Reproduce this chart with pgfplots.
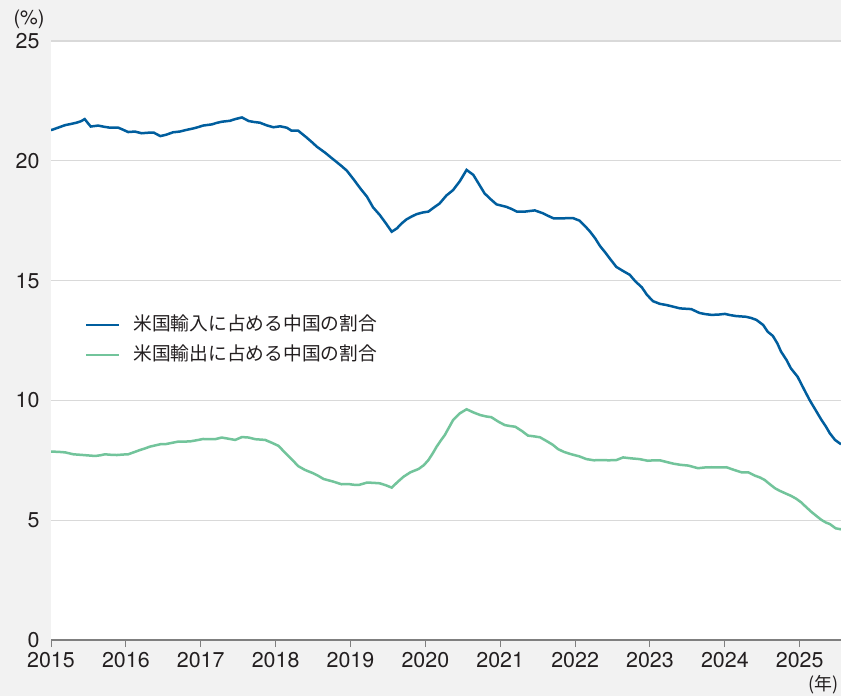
\documentclass[border=0pt]{standalone}
\usepackage{fontspec}
\setmainfont{TeX Gyre Heros}
\newfontfamily\cjk{Noto Sans CJK JP}
\usepackage{pgfplots}
\pgfplotsset{compat=1.18}
\definecolor{bgc}{HTML}{F2F2F2}
\definecolor{gridc}{HTML}{D9D9D9}
\definecolor{axisc}{HTML}{7F7F7F}
\definecolor{txtc}{HTML}{231F20}
\definecolor{impc}{HTML}{005E9E}
\definecolor{expc}{HTML}{72C49B}
\begin{document}
\begin{tikzpicture}
\fill[bgc] (-51bp,-56bp) rectangle (790bp,640bp);
\begin{axis}[
  at={(0,0)}, anchor=south west,
  scale only axis, width=790bp, height=599bp,
  xmin=2015, xmax=2025.55, ymin=0, ymax=25,
  axis background/.style={fill=white},
  axis x line*=bottom, axis y line*=left,
  y axis line style={draw=none},
  x axis line style={draw=axisc, line width=2bp},
  xtick={2015,...,2025}, ytick={0,5,...,25},
  x tick style={draw=axisc, line width=1bp},
  y tick style={draw=none},
  tick align=outside, major tick length=7bp,
  ymajorgrids, grid style={draw=gridc, line width=1.2bp},
  /pgf/number format/assume math mode=true,
  /pgf/number format/1000 sep={},
  tick label style={font=\fontsize{21.5}{24}\selectfont, text=txtc},
  xticklabel style={yshift=-2bp},
  yticklabel style={xshift=-1bp},
  legend style={at={(0.039,0.545)}, anchor=north west, draw=none, fill=none,
    font=\cjk\fontsize{18.8}{22}\selectfont, text=txtc, row sep=11bp,
    nodes={inner sep=0pt, text height=15bp, text depth=4bp},
    /tikz/every odd column/.append style={column sep=13bp}},
  legend image code/.code={\draw[#1, line width=2.5bp] (0bp,0bp) -- (33bp,0bp);},
  legend cell align=left,
]
\addplot[impc, line width=2.5bp] coordinates {
(2015.00,21.28) (2015.03,21.31) (2015.11,21.40) (2015.19,21.49) (2015.27,21.54)
(2015.34,21.59) (2015.40,21.65) (2015.45,21.74) (2015.53,21.43) (2015.63,21.47)
(2015.71,21.42) (2015.79,21.38) (2015.90,21.38) (2015.96,21.30) (2016.03,21.20)
(2016.12,21.22) (2016.21,21.15) (2016.29,21.17) (2016.37,21.18) (2016.46,21.03)
(2016.54,21.09) (2016.63,21.19) (2016.72,21.22) (2016.81,21.29) (2016.90,21.35)
(2016.96,21.40) (2017.03,21.47) (2017.15,21.52) (2017.21,21.58) (2017.28,21.63)
(2017.39,21.67) (2017.46,21.74) (2017.55,21.81) (2017.64,21.66) (2017.71,21.62)
(2017.79,21.59) (2017.88,21.48) (2017.97,21.40) (2018.06,21.44) (2018.15,21.38)
(2018.21,21.26) (2018.30,21.26) (2018.41,20.98) (2018.48,20.79) (2018.55,20.59)
(2018.66,20.34) (2018.73,20.16) (2018.81,19.96) (2018.88,19.78) (2018.95,19.59)
(2019.04,19.23) (2019.13,18.85) (2019.22,18.50) (2019.30,18.06) (2019.39,17.74)
(2019.47,17.40) (2019.55,17.04) (2019.62,17.18) (2019.68,17.38) (2019.75,17.56)
(2019.82,17.68) (2019.88,17.77) (2019.96,17.84) (2020.04,17.88) (2020.10,18.02)
(2020.19,18.22) (2020.28,18.55) (2020.37,18.78) (2020.46,19.15) (2020.55,19.62)
(2020.64,19.41) (2020.72,19.00) (2020.79,18.64) (2020.87,18.40) (2020.95,18.18)
(2021.08,18.08) (2021.15,17.99) (2021.22,17.88) (2021.33,17.88) (2021.46,17.93)
(2021.57,17.81) (2021.64,17.70) (2021.71,17.60) (2021.84,17.60) (2021.97,17.61)
(2022.06,17.50) (2022.13,17.28) (2022.20,17.04) (2022.27,16.75) (2022.33,16.45)
(2022.40,16.18) (2022.46,15.93) (2022.55,15.57) (2022.64,15.40) (2022.73,15.24)
(2022.80,14.98) (2022.89,14.72) (2022.96,14.40) (2023.04,14.14) (2023.13,14.03)
(2023.22,13.98) (2023.31,13.91) (2023.40,13.84) (2023.55,13.81) (2023.66,13.65)
(2023.74,13.60) (2023.82,13.57) (2023.91,13.58) (2024.00,13.61) (2024.07,13.56)
(2024.15,13.52) (2024.28,13.49) (2024.35,13.44) (2024.42,13.36) (2024.51,13.15)
(2024.57,12.87) (2024.64,12.69) (2024.70,12.38) (2024.75,12.03) (2024.82,11.70)
(2024.88,11.34) (2024.97,10.99) (2025.05,10.50) (2025.13,10.02) (2025.21,9.60)
(2025.29,9.18) (2025.35,8.90) (2025.40,8.63) (2025.47,8.35) (2025.55,8.17)
};
\addlegendentry{米国輸入に占める中国の割合}
\addplot[expc, line width=2.5bp] coordinates {
(2015.00,7.86) (2015.04,7.86) (2015.11,7.85) (2015.19,7.83) (2015.30,7.75)
(2015.43,7.72) (2015.51,7.70) (2015.59,7.68) (2015.66,7.71) (2015.72,7.75)
(2015.80,7.73) (2015.88,7.72) (2015.96,7.74) (2016.03,7.75) (2016.11,7.84)
(2016.19,7.93) (2016.26,8.00) (2016.32,8.07) (2016.39,8.12) (2016.46,8.17)
(2016.54,8.18) (2016.62,8.23) (2016.70,8.28) (2016.78,8.28) (2016.86,8.29)
(2016.95,8.34) (2017.03,8.39) (2017.11,8.38) (2017.19,8.38) (2017.28,8.45)
(2017.37,8.40) (2017.46,8.35) (2017.55,8.47) (2017.64,8.45) (2017.73,8.38)
(2017.86,8.35) (2017.95,8.23) (2018.04,8.10) (2018.10,7.90) (2018.17,7.68)
(2018.24,7.46) (2018.30,7.26) (2018.39,7.10) (2018.50,6.96) (2018.57,6.85)
(2018.64,6.72) (2018.77,6.61) (2018.88,6.50) (2018.97,6.51) (2019.04,6.48)
(2019.11,6.47) (2019.22,6.57) (2019.30,6.56) (2019.39,6.54) (2019.47,6.46)
(2019.55,6.36) (2019.63,6.60) (2019.71,6.82) (2019.80,7.00) (2019.91,7.14)
(2019.98,7.30) (2020.04,7.51) (2020.10,7.80) (2020.15,8.07) (2020.20,8.30)
(2020.26,8.56) (2020.32,8.90) (2020.37,9.18) (2020.46,9.46) (2020.55,9.63)
(2020.64,9.50) (2020.73,9.39) (2020.81,9.33) (2020.88,9.30) (2020.97,9.12)
(2021.06,8.97) (2021.13,8.93) (2021.20,8.90) (2021.29,8.72) (2021.37,8.53)
(2021.45,8.50) (2021.53,8.46) (2021.62,8.30) (2021.70,8.15) (2021.77,7.97)
(2021.85,7.85) (2021.95,7.75) (2022.05,7.67) (2022.15,7.55) (2022.25,7.50)
(2022.33,7.51) (2022.45,7.50) (2022.55,7.51) (2022.64,7.62) (2022.75,7.58)
(2022.86,7.55) (2022.97,7.48) (2023.05,7.50) (2023.13,7.50) (2023.22,7.43)
(2023.31,7.36) (2023.41,7.31) (2023.51,7.28) (2023.64,7.17) (2023.73,7.20)
(2023.82,7.21) (2023.92,7.20) (2024.02,7.21) (2024.12,7.10) (2024.22,7.00)
(2024.31,7.00) (2024.40,6.86) (2024.47,6.78) (2024.53,6.68) (2024.60,6.50)
(2024.67,6.33) (2024.73,6.23) (2024.80,6.13) (2024.88,6.02) (2024.95,5.90)
(2025.02,5.74) (2025.08,5.56) (2025.15,5.36) (2025.22,5.18) (2025.29,5.01)
(2025.35,4.90) (2025.40,4.84) (2025.48,4.66) (2025.55,4.62)
};
\addlegendentry{米国輸出に占める中国の割合}
\end{axis}
\node[text=txtc, font=\fontsize{20}{24}\selectfont] at (-22bp,621bp) {(\%)};
\node[text=txtc, font=\cjk\fontsize{18}{22}\selectfont, anchor=east, inner sep=0pt] at (788bp,-45bp) {(年)};
\pgfresetboundingbox
\path[use as bounding box] (-51bp,-56bp) rectangle (790bp,640bp);
\end{tikzpicture}
\end{document}
